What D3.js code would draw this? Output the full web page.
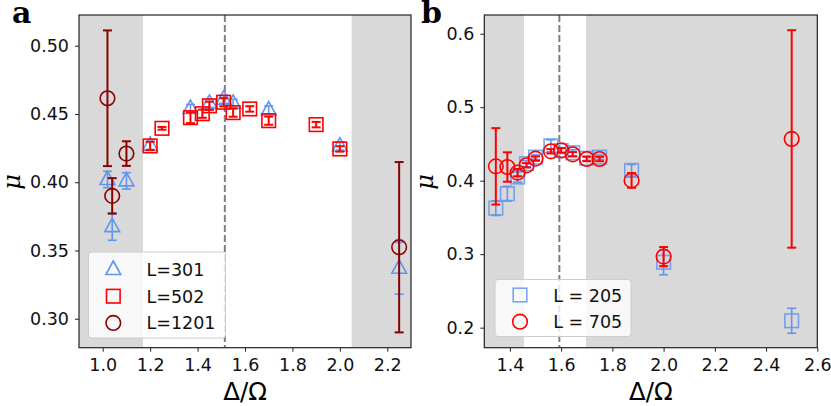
<!DOCTYPE html>
<html><head><meta charset="utf-8">
<script src="https://cdn.jsdelivr.net/npm/d3@7"></script>
<style>body{margin:0;background:#fff}</style>
</head><body><svg id="c" width="831" height="406" font-family="DejaVu Sans, sans-serif"></svg>
<script>
// Panel a data
const a_x301 = [1.02, 1.04, 1.10, 1.20, 1.37, 1.45, 1.51, 1.55, 1.70, 2.00, 2.25];
const a_y301 = [0.402, 0.3675, 0.401, 0.427, 0.454, 0.4578, 0.4608, 0.4578, 0.4529, 0.4265, 0.337];
const a_e301 = [0.006, 0.010, 0.006, 0.003, 0.003, 0.003, 0.003, 0.003, 0.003, 0.003, 0.019];
const a_x502 = [1.20, 1.25, 1.37, 1.42, 1.45, 1.51, 1.55, 1.62, 1.70, 1.90, 2.00];
const a_y502 = [0.4266, 0.4395, 0.4473, 0.4502, 0.456, 0.4586, 0.451, 0.4537, 0.4451, 0.4422, 0.4244];
const a_e502 = [0.003, 0.001, 0.004, 0.003, 0.003, 0.003, 0.003, 0.002, 0.003, 0.002, 0.002];
const a_x1201 = [1.02, 1.04, 1.10, 2.25];
const a_y1201 = [0.4615, 0.390, 0.421, 0.3524];
const a_e1201 = [0.0497, 0.013, 0.009, 0.0624];
const a_xTicks = [1.0, 1.2, 1.4, 1.6, 1.8, 2.0, 2.2];
const a_yTicks = [0.30, 0.35, 0.40, 0.45, 0.50];
// Panel b data
const b_x205 = [1.345, 1.39, 1.43, 1.465, 1.50, 1.56, 1.60, 1.645, 1.70, 1.75, 1.875, 2.00, 2.50];
const b_y205 = [0.3626, 0.3823, 0.405, 0.4232, 0.432, 0.4475, 0.441, 0.438, 0.4305, 0.432, 0.414, 0.289, 0.2094];
const b_e205 = [0.010, 0.010, 0.007, 0.004, 0.003, 0.008, 0.004, 0.004, 0.003, 0.003, 0.008, 0.017, 0.017];
const b_x705 = [1.345, 1.39, 1.43, 1.465, 1.50, 1.56, 1.60, 1.645, 1.70, 1.75, 1.875, 2.00, 2.50];
const b_y705 = [0.4195, 0.4186, 0.411, 0.4209, 0.430, 0.440, 0.4413, 0.4359, 0.4295, 0.4295, 0.4004, 0.2967, 0.4568];
const b_e705 = [0.052, 0.020, 0.005, 0.003, 0.003, 0.003, 0.003, 0.003, 0.003, 0.003, 0.010, 0.013, 0.148];
const b_xTicks = [1.4, 1.6, 1.8, 2.0, 2.2, 2.4, 2.6];
const b_yTicks = [0.2, 0.3, 0.4, 0.5, 0.6];

const svg = d3.select("#c");
const BLUE = "#6495ED", RED = "#ff0000", DRED = "#8b0000";

function panel(o) {
  const g = svg.append("g");
  const x = d3.scaleLinear().domain(o.xdom).range([o.l, o.r]);
  const y = d3.scaleLinear().domain(o.ydom).range([o.b, o.t]);
  o.shade.forEach(s => {
    g.append("rect").attr("x", x(s[0])).attr("y", o.t).attr("width", x(s[1]) - x(s[0])).attr("height", o.b - o.t).attr("fill", "#d9d9d9");
  });
  g.append("line").attr("x1", x(o.vline)).attr("x2", x(o.vline)).attr("y1", o.t).attr("y2", o.b)
    .attr("stroke", "#808080").attr("stroke-width", 2).attr("stroke-dasharray", "7,3");
  o.series.forEach(s => {
    const sg = g.append("g");
    s.xs.forEach((xv, i) => {
      const cx = x(xv), cy = y(s.ys[i]), y1 = y(s.ys[i] + s.es[i]), y2 = y(s.ys[i] - s.es[i]);
      sg.append("line").attr("x1", cx).attr("x2", cx).attr("y1", y1).attr("y2", y2).attr("stroke", s.color).attr("stroke-width", s.ew);
      [y1, y2].forEach(yy => sg.append("line").attr("x1", cx - 4.5).attr("x2", cx + 4.5).attr("y1", yy).attr("y2", yy).attr("stroke", s.color).attr("stroke-width", s.ew));
      drawMarker(sg, s.shape, cx, cy, s.color, s.op);
    });
  });
  g.append("rect").attr("x", o.l).attr("y", o.t).attr("width", o.r - o.l).attr("height", o.b - o.t).attr("fill", "none").attr("stroke", "#222").attr("stroke-width", 1.2);
  const xa = g.append("g").attr("transform", `translate(0,${o.b})`).call(d3.axisBottom(x).tickValues(o.xticks).tickFormat(d3.format(".1f")).tickSize(4).tickPadding(7));
  const ya = g.append("g").attr("transform", `translate(${o.l},0)`).call(d3.axisLeft(y).tickValues(o.yticks).tickFormat(d3.format(o.yfmt)).tickSize(4).tickPadding(6));
  [xa, ya].forEach(a => { a.select(".domain").remove(); a.attr("font-family", null); a.selectAll("text").attr("font-size", 17.5).attr("fill", "#111").style("font-family", "DejaVu Sans"); a.selectAll("line").attr("stroke", "#222"); });
  g.append("text").attr("x", (o.l + o.r) / 2).attr("y", 400).attr("text-anchor", "middle").style("font-family", "DejaVu Sans").attr("font-size", 24.5).text("Δ/Ω");
  g.append("text").attr("transform", `translate(${o.ylx},182) rotate(-90)`).attr("text-anchor", "middle").attr("font-size", 24)
    .style("font-style", "italic").style("font-family", "DejaVu Serif").text("μ");
  g.append("text").attr("x", o.lx).attr("y", 23).attr("font-size", 30).style("font-weight", "bold").style("font-family", "DejaVu Serif").text(o.letter);
  const L = o.legend;
  const lg = g.append("g");
  lg.append("rect").attr("x", L.x).attr("y", L.y).attr("width", L.w).attr("height", L.h).attr("rx", 3)
    .attr("fill", "white").attr("fill-opacity", 0.8).attr("stroke", "#cccccc").attr("stroke-width", 1);
  L.items.forEach((it, i) => {
    const yy = L.y + L.first + i * L.step;
    drawMarker(lg, it.shape, L.mx, yy, it.color, it.op);
    lg.append("text").attr("x", L.tx).attr("y", yy + 6.5).attr("font-size", 17.5).attr("fill", "#111").style("font-family", "DejaVu Sans").text(it.label);
  });
}

function drawMarker(g, shape, cx, cy, color, op) {
  let m;
  if (shape === "circle") m = g.append("circle").attr("cx", cx).attr("cy", cy).attr("r", 7.3);
  else if (shape === "square") m = g.append("rect").attr("x", cx - 6.8).attr("y", cy - 6.8).attr("width", 13.6).attr("height", 13.6);
  else m = g.append("path").attr("d", `M${cx},${cy - 8.5}L${cx + 7.4},${cy + 5}L${cx - 7.4},${cy + 5}Z`);
  m.attr("fill", "none").attr("stroke", color).attr("stroke-width", 1.6).attr("stroke-opacity", op || 1);
}

panel({
  l: 79, r: 411, t: 15, b: 347.7, xdom: [0.9, 2.3], ydom: [0.2788, 0.5225],
  xticks: a_xTicks, yticks: a_yTicks, yfmt: ".2f", shade: [[0.9, 1.17], [2.05, 2.3]], vline: 1.515,
  ylx: 20, lx: 12, letter: "a",
  series: [
    { xs: a_x301, ys: a_y301, es: a_e301, color: BLUE, shape: "tri", ew: 1.6 },
    { xs: a_x502, ys: a_y502, es: a_e502, color: RED, shape: "square", ew: 2 },
    { xs: a_x1201, ys: a_y1201, es: a_e1201, color: DRED, shape: "circle", ew: 2 }
  ],
  legend: { x: 88.5, y: 252, w: 137, h: 86, first: 17.5, step: 26.7, mx: 113.3, tx: 146.5,
    items: [{ shape: "tri", color: BLUE, label: "L=301" }, { shape: "square", color: RED, label: "L=502" }, { shape: "circle", color: DRED, label: "L=1201" }] }
});
panel({
  l: 484.3, r: 817.3, t: 15, b: 347.7, xdom: [1.3, 2.6], ydom: [0.1727, 0.6255],
  xticks: b_xTicks, yticks: b_yTicks, yfmt: ".1f", shade: [[1.3, 1.455], [1.697, 2.6]], vline: 1.593,
  ylx: 433, lx: 421, letter: "b",
  series: [
    { xs: b_x205, ys: b_y205, es: b_e205, color: BLUE, shape: "square", ew: 1.6, op: 0.85 },
    { xs: b_x705, ys: b_y705, es: b_e705, color: RED, shape: "circle", ew: 2 }
  ],
  legend: { x: 495, y: 279.5, w: 136, h: 57, first: 15.5, step: 26.7, mx: 520, tx: 553.3,
    items: [{ shape: "square", color: BLUE, label: "L = 205", op: 0.85 }, { shape: "circle", color: RED, label: "L = 705" }] }
});
</script></body></html>
